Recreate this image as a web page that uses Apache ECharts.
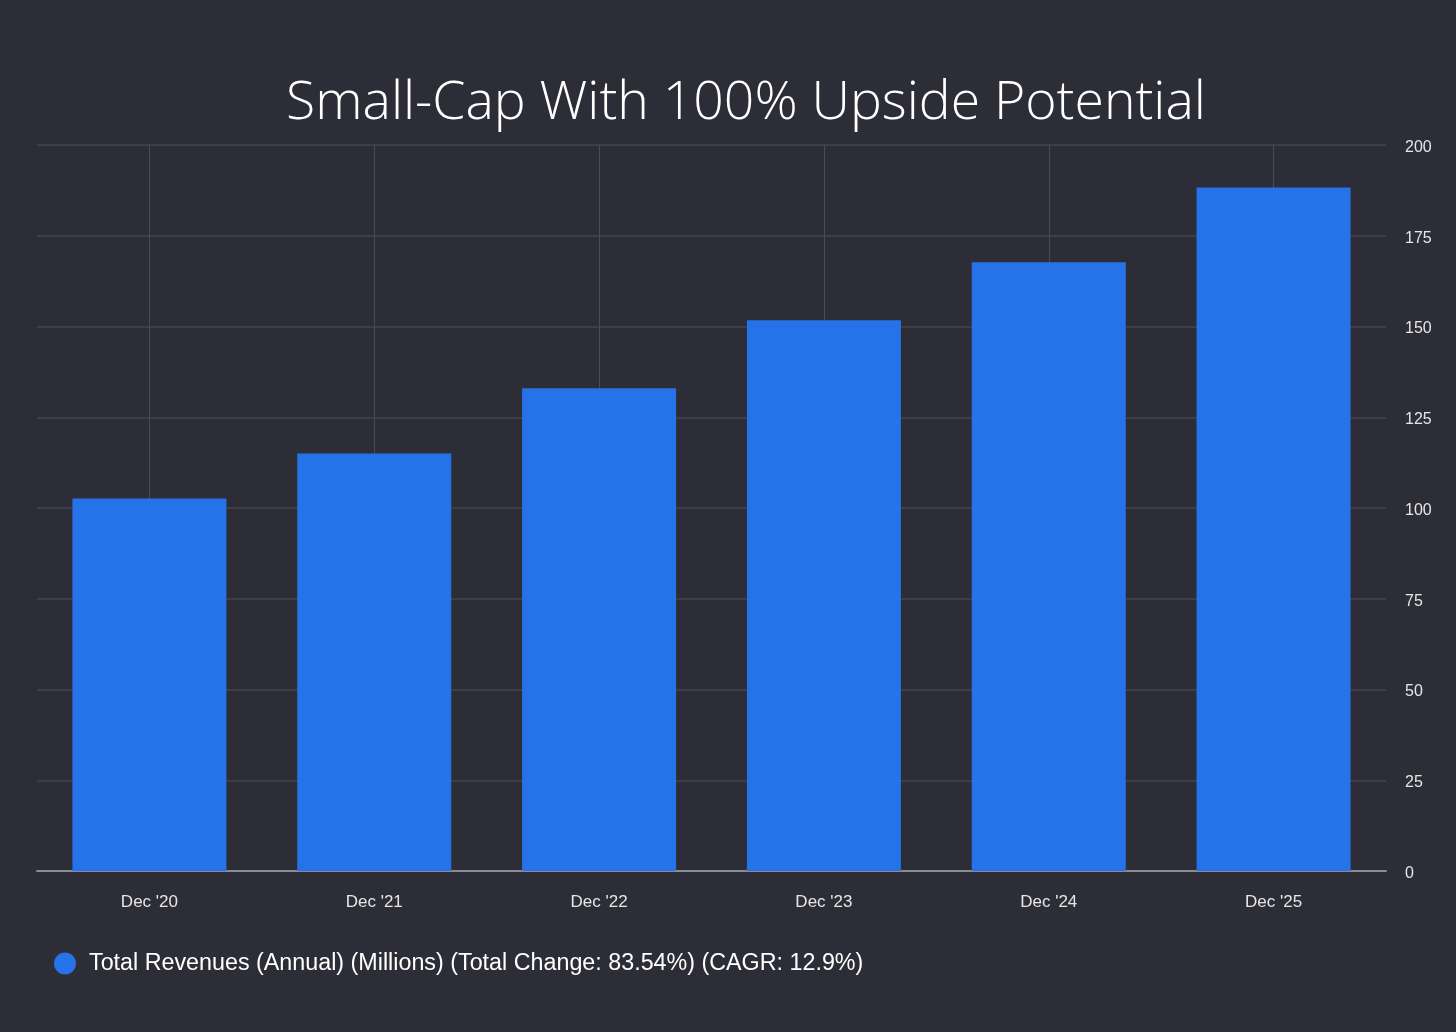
<!DOCTYPE html>
<html>
<head>
<meta charset="utf-8">
<script src="https://cdn.jsdelivr.net/npm/echarts@6/dist/echarts.min.js"></script>
<style>
  html, body { margin: 0; padding: 0; background: #2c2d36; }
  #box { width: 1456px; height: 1032px; }
</style>
</head>
<body>
<div id="box"></div>
<script>
// categories and values
let categories = ["Dec '20", "Dec '21", "Dec '22", "Dec '23", "Dec '24", "Dec '25"];
let revenues = [102.6, 115.0, 133.0, 151.7, 167.7, 188.3];
let seriesName = 'Total Revenues (Annual) (Millions) (Total Change: 83.54%) (CAGR: 12.9%)';
let chartTitle = 'Small-Cap With 100% Upside Potential';

let chart = echarts.init(document.getElementById('box'));

let option = {
    backgroundColor: '#2c2d36',
    animation: false,
    title: {
        text: chartTitle,
        left: 741,
        top: 72,
        textAlign: 'center',
        textStyle: {
            color: '#ffffff',
            fontFamily: 'Open Sans',
            fontWeight: 300,
            fontSize: 53.5
        }
    },
    legend: {
        left: 49,
        top: 947,
        itemWidth: 34,
        itemHeight: 22,
        icon: 'circle',
        data: [seriesName],
        textStyle: {
            color: '#ffffff',
            fontFamily: 'Liberation Sans',
            fontSize: 23.3,
            padding: [0, 0, 0, 2]
        }
    },
    grid: {
        left: 37,
        right: 70,
        top: 145,
        bottom: 161,
        containLabel: false
    },
    xAxis: {
        type: 'category',
        data: categories,
        axisLine: {
            lineStyle: { color: '#8b8c92', width: 2 }
        },
        axisTick: {
            alignWithLabel: true,
            length: 17,
            lineStyle: { color: '#23242b', width: 1 }
        },
        axisLabel: {
            color: '#e6e6e6',
            fontFamily: 'Liberation Sans',
            fontSize: 17,
            margin: 23
        },
        splitLine: {
            show: true,
            alignWithLabel: true,
            lineStyle: { color: '#4a4b54', width: 1 }
        }
    },
    yAxis: {
        type: 'value',
        position: 'right',
        min: 0,
        max: 200,
        interval: 25,
        axisLine: { show: false },
        axisTick: { show: false },
        axisLabel: {
            color: '#e6e6e6',
            fontFamily: 'Liberation Sans',
            fontSize: 16,
            margin: 19,
            verticalAlign: 'top',
            lineHeight: 5
        },
        splitLine: {
            lineStyle: { color: '#43444c', width: 1.5 }
        }
    },
    series: [
        {
            name: seriesName,
            type: 'bar',
            data: revenues,
            barCategoryGap: '31.5%',
            itemStyle: {
                color: '#2672e8'
            }
        }
    ]
};
chart.setOption(option);
</script>
</body>
</html>
